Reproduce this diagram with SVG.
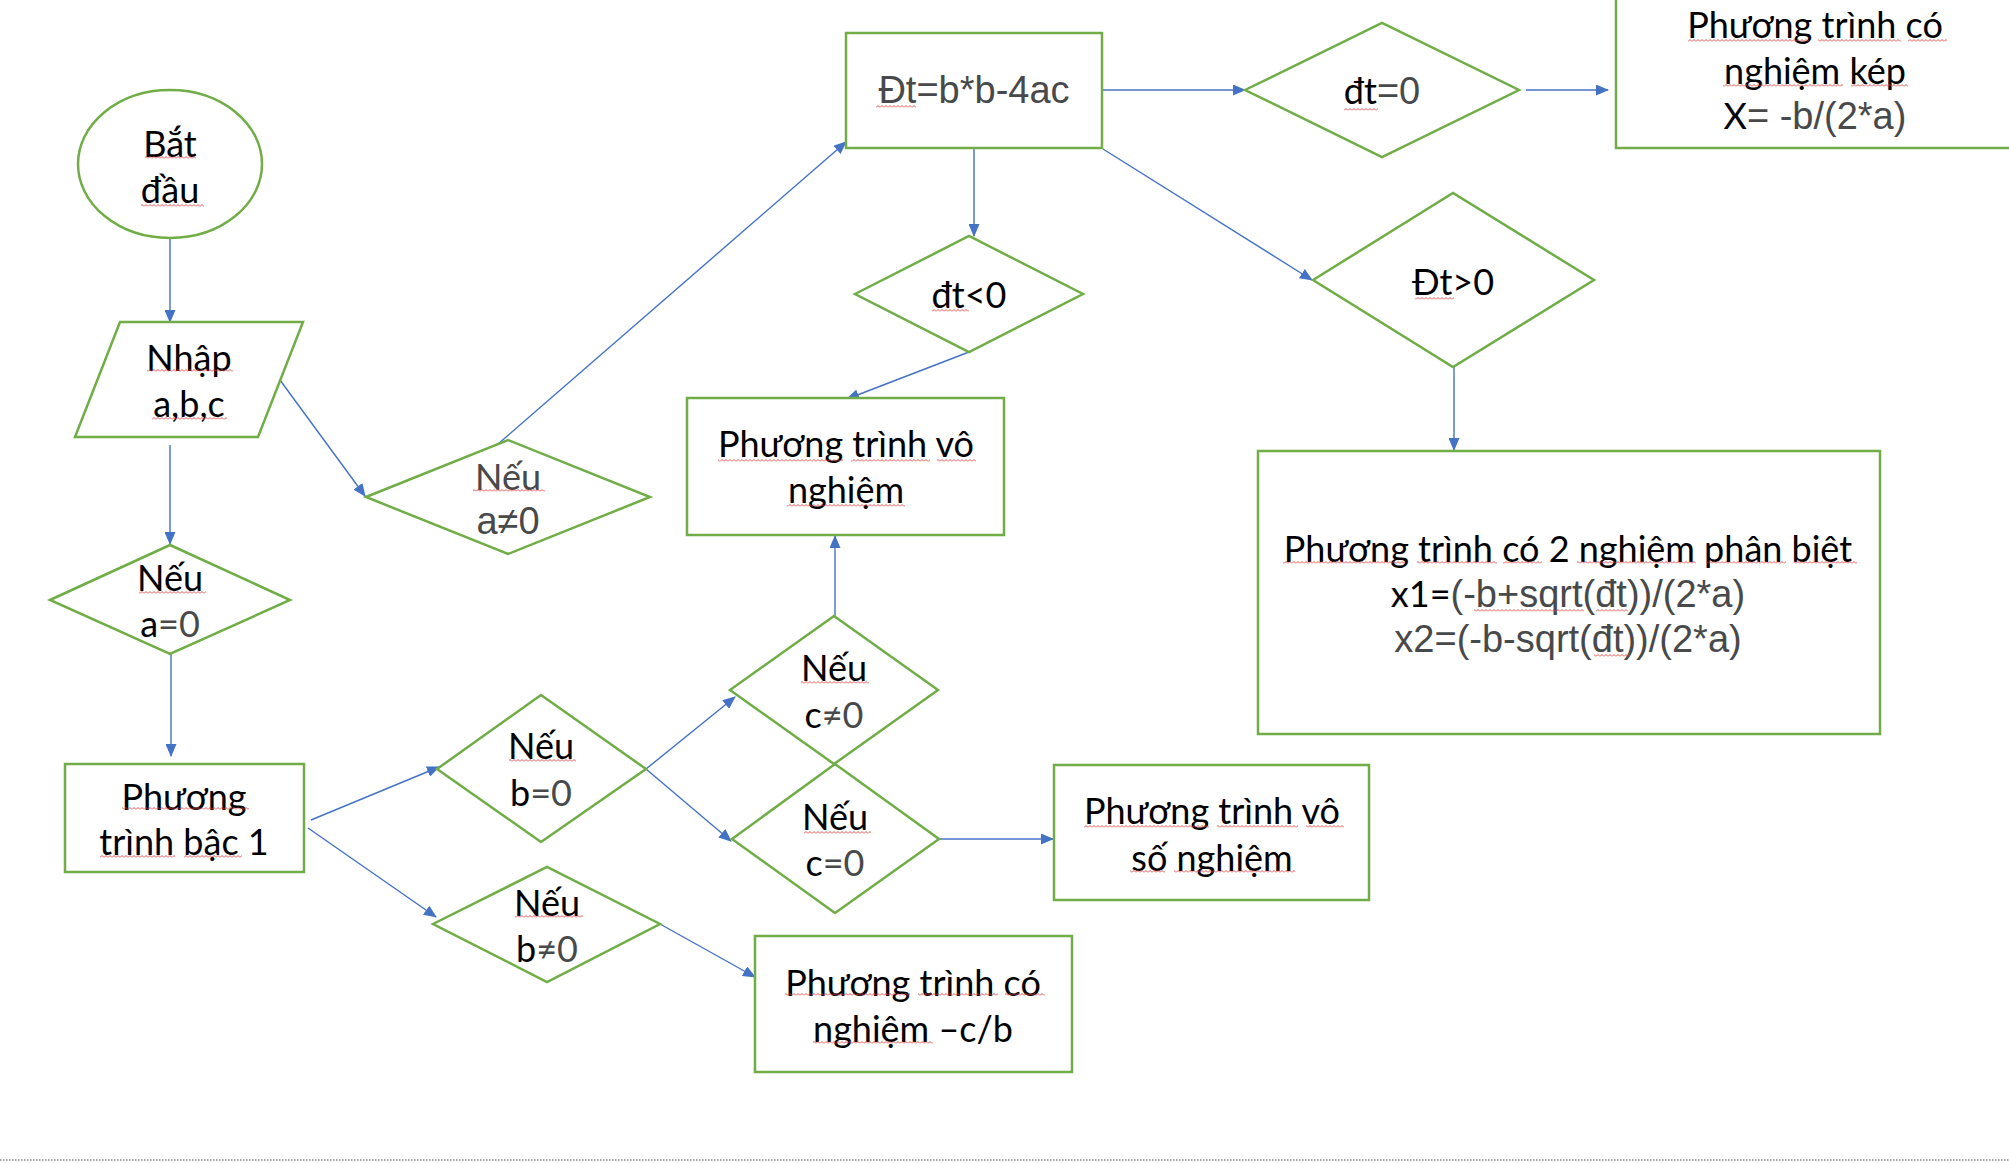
<svg xmlns="http://www.w3.org/2000/svg" width="2009" height="1163" viewBox="0 0 2009 1163">
<defs>
<style>
.n{fill:#fff;stroke:#70AD47;stroke-width:2.5}
.c{fill:none;stroke:#4472C4;stroke-width:1.4}
.t{font-family:Lato,"Liberation Sans",sans-serif;font-size:36px;fill:#000;text-anchor:middle}
.a{font-family:"Liberation Sans",Arial,sans-serif;font-size:38px;fill:#48494B}
.g{fill:#48494B}
.s{fill:url(#sq)}
</style>
<marker id="ah" markerUnits="userSpaceOnUse" markerWidth="13" markerHeight="11" refX="12" refY="5.5" orient="auto">
<path d="M0,0 L13,5.5 L0,11 Z" fill="#4472C4"/>
</marker>
<pattern id="sq" patternUnits="userSpaceOnUse" width="4" height="3">
<path d="M0,2.5 L2,0.5 L4,2.5" fill="none" stroke="#E03C3C" stroke-width="0.9"/>
</pattern>
</defs>
<rect width="2009" height="1163" fill="#fff"/>
<g id="connectors">
<line class="c" x1="170" y1="238" x2="170" y2="322" marker-end="url(#ah)"/>
<line class="c" x1="170" y1="445" x2="170" y2="544" marker-end="url(#ah)"/>
<line class="c" x1="280" y1="380" x2="365" y2="496" marker-end="url(#ah)"/>
<line class="c" x1="498" y1="444" x2="846" y2="142" marker-end="url(#ah)"/>
<line class="c" x1="1102" y1="90" x2="1245" y2="90" marker-end="url(#ah)"/>
<line class="c" x1="1526" y1="90" x2="1608" y2="90" marker-end="url(#ah)"/>
<line class="c" x1="974" y1="148" x2="974" y2="236" marker-end="url(#ah)"/>
<line class="c" x1="969" y1="352" x2="847" y2="399" marker-end="url(#ah)"/>
<line class="c" x1="1103" y1="149" x2="1312" y2="280" marker-end="url(#ah)"/>
<line class="c" x1="1454" y1="367" x2="1454" y2="450" marker-end="url(#ah)"/>
<line class="c" x1="171" y1="654" x2="171" y2="756" marker-end="url(#ah)"/>
<line class="c" x1="311" y1="820" x2="439" y2="767" marker-end="url(#ah)"/>
<line class="c" x1="308" y1="828" x2="436" y2="917" marker-end="url(#ah)"/>
<line class="c" x1="646" y1="769" x2="735" y2="697" marker-end="url(#ah)"/>
<line class="c" x1="646" y1="769" x2="731" y2="841" marker-end="url(#ah)"/>
<line class="c" x1="660" y1="924" x2="755" y2="977" marker-end="url(#ah)"/>
<line class="c" x1="835" y1="616" x2="835" y2="536" marker-end="url(#ah)"/>
<line class="c" x1="939" y1="839" x2="1053" y2="839" marker-end="url(#ah)"/>
</g>
<g id="start">
<ellipse class="n" cx="170" cy="164" rx="92" ry="74"/>
<text class="t" x="170" y="156.5">Bắt</text>
<text class="t" x="170" y="202.5">đầu</text>
</g>
<g id="input">
<polygon class="n" points="120,322 303,322 258,437 75,437"/>
<text class="t" x="189" y="370.5">Nhập</text>
<text class="t" x="189" y="416.5">a,b,c</text>
</g>
<g id="cond-a-ne-0">
<polygon class="n" points="366,497 508,440 650,497 508,554"/>
<text class="t g" x="508" y="489.5">Nếu</text>
<text class="t a" x="508" y="534">a≠0</text>
</g>
<g id="delta">
<rect class="n" x="846" y="33" width="256" height="115"/>
<text class="t a" x="974" y="103">Đt=b*b-4ac</text>
</g>
<g id="cond-dt-eq-0">
<polygon class="n" points="1245,90 1382,23 1519,90 1382,157"/>
<text class="t" x="1382" y="104">đt<tspan class="a">=0</tspan></text>
</g>
<g id="double-root">
<rect class="n" x="1616" y="-10" width="420" height="158"/>
<text class="t" x="1815" y="37.5">Phương trình có</text>
<text class="t" x="1815" y="83.5">nghiệm kép</text>
<text class="t" x="1815" y="129">X<tspan class="a">= -b/(2*a)</tspan></text>
</g>
<g id="cond-dt-lt-0">
<polygon class="n" points="855,294 969,236 1083,294 969,352"/>
<text class="t" x="969" y="307.5">đt&lt;0</text>
</g>
<g id="no-root">
<rect class="n" x="687" y="398" width="317" height="137"/>
<text class="t" x="846" y="456.5">Phương trình vô</text>
<text class="t" x="846" y="502.5">nghiệm</text>
</g>
<g id="cond-dt-gt-0">
<polygon class="n" points="1313,280 1453,193 1594,280 1453,367"/>
<text class="t" x="1453" y="294.5">Đt&gt;0</text>
</g>
<g id="two-roots">
<rect class="n" x="1258" y="451" width="622" height="283"/>
<text class="t" x="1568" y="561.5">Phương trình có 2 nghiệm phân biệt</text>
<text class="t" x="1568" y="607">x1=<tspan class="a">(-b+sqrt(đt))/(2*a)</tspan></text>
<text class="t a" x="1568" y="652">x2=(-b-sqrt(đt))/(2*a)</text>
</g>
<g id="cond-a-eq-0">
<polygon class="n" points="50,600 170,545 290,600 170,654"/>
<text class="t" x="170" y="590.5">Nếu</text>
<text class="t" x="170" y="636.5">a<tspan class="g">=0</tspan></text>
</g>
<g id="linear">
<rect class="n" x="65" y="764" width="239" height="108"/>
<text class="t" x="184" y="809.5">Phương</text>
<text class="t" x="184" y="854.5">trình bậc 1</text>
</g>
<g id="cond-b-eq-0">
<polygon class="n" points="437,769 541,695 646,769 541,842"/>
<text class="t" x="541" y="758.5">Nếu</text>
<text class="t" x="541" y="805.5">b<tspan class="g">=0</tspan></text>
</g>
<g id="cond-b-ne-0">
<polygon class="n" points="433,924 547,867 660,924 547,982"/>
<text class="t" x="547" y="915.5">Nếu</text>
<text class="t" x="547" y="961.5">b<tspan class="g">≠0</tspan></text>
</g>
<g id="cond-c-ne-0">
<polygon class="n" points="730,690 834,616 938,690 834,764"/>
<text class="t" x="834" y="680.5">Nếu</text>
<text class="t" x="834" y="727.5">c<tspan class="g">≠0</tspan></text>
</g>
<g id="cond-c-eq-0">
<polygon class="n" points="732,839 835,764 939,839 835,913"/>
<text class="t" x="835" y="829.5">Nếu</text>
<text class="t" x="835" y="875.5">c<tspan class="g">=0</tspan></text>
</g>
<g id="infinite-roots">
<rect class="n" x="1054" y="765" width="315" height="135"/>
<text class="t" x="1212" y="823.5">Phương trình vô</text>
<text class="t" x="1212" y="870.5">số nghiệm</text>
</g>
<g id="root-c-b">
<rect class="n" x="755" y="936" width="317" height="136"/>
<text class="t" x="913" y="995.5">Phương trình có</text>
<text class="t" x="913" y="1041.5">nghiệm –c/b</text>
</g>
<g id="spellcheck-marks">
<rect class="s" x="145" y="156" width="51" height="3"/>
<rect class="s" x="141" y="204" width="63" height="3"/>
<rect class="s" x="147" y="369" width="86" height="3"/>
<rect class="s" x="152" y="417" width="75" height="3"/>
<rect class="s" x="473" y="489" width="72" height="3"/>
<rect class="s" x="139" y="591" width="67" height="3"/>
<rect class="s" x="876" y="105" width="40" height="3"/>
<rect class="s" x="932" y="309" width="37" height="3"/>
<rect class="s" x="718" y="459" width="125" height="3"/>
<rect class="s" x="851" y="459" width="79" height="3"/>
<rect class="s" x="937" y="459" width="39" height="3"/>
<rect class="s" x="787" y="504" width="118" height="3"/>
<rect class="s" x="1344" y="108" width="34" height="3"/>
<rect class="s" x="1688" y="39" width="121" height="3"/>
<rect class="s" x="1818" y="39" width="83" height="3"/>
<rect class="s" x="1908" y="39" width="39" height="3"/>
<rect class="s" x="1723" y="84" width="120" height="3"/>
<rect class="s" x="1851" y="84" width="57" height="3"/>
<rect class="s" x="1415" y="297" width="39" height="3"/>
<rect class="s" x="1283" y="561" width="122" height="3"/>
<rect class="s" x="1417" y="561" width="80" height="3"/>
<rect class="s" x="1503" y="561" width="39" height="3"/>
<rect class="s" x="1577" y="561" width="119" height="3"/>
<rect class="s" x="1706" y="561" width="80" height="3"/>
<rect class="s" x="1794" y="561" width="63" height="3"/>
<rect class="s" x="1474" y="609" width="110" height="3"/>
<rect class="s" x="1596" y="609" width="32" height="3"/>
<rect class="s" x="1594" y="654" width="36" height="3"/>
<rect class="s" x="122" y="807" width="127" height="3"/>
<rect class="s" x="100" y="855" width="75" height="3"/>
<rect class="s" x="184" y="855" width="58" height="3"/>
<rect class="s" x="509" y="759" width="67" height="3"/>
<rect class="s" x="515" y="915" width="68" height="3"/>
<rect class="s" x="801" y="681" width="68" height="3"/>
<rect class="s" x="804" y="831" width="67" height="3"/>
<rect class="s" x="1084" y="825" width="125" height="3"/>
<rect class="s" x="1217" y="825" width="81" height="3"/>
<rect class="s" x="1306" y="825" width="38" height="3"/>
<rect class="s" x="1130" y="870" width="35" height="3"/>
<rect class="s" x="1174" y="870" width="121" height="3"/>
<rect class="s" x="785" y="993" width="125" height="3"/>
<rect class="s" x="918" y="993" width="80" height="3"/>
<rect class="s" x="1005" y="993" width="40" height="3"/>
<rect class="s" x="813" y="1041" width="120" height="3"/>
</g>
<line x1="0" y1="1160" x2="2009" y2="1160" stroke="#888" stroke-width="1.5" stroke-dasharray="1.5,1.5"/>
</svg>
